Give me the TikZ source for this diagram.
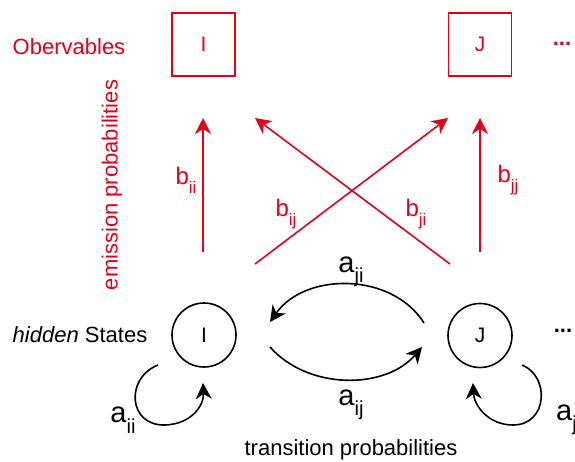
\documentclass[tikz,border=0pt]{standalone}
\usepackage{fontspec}
\setmainfont{Liberation Sans}
\usetikzlibrary{arrows.meta}
\definecolor{obsred}{RGB}{226,0,26}
\newcommand\lbsub[1]{\raisebox{-0.36em}{\scalebox{0.7}{#1}}}
\begin{document}
\begin{tikzpicture}[x=1pt,y=-1pt,
  obsbox/.style={draw=obsred, line width=1.6pt, minimum size=63pt, inner sep=0pt, text=obsred, font=\fontsize{21}{24}\selectfont},
  state/.style={circle, draw, line width=1.6pt, minimum size=64pt, inner sep=0pt, font=\fontsize{21}{24}\selectfont},
  emis/.style={draw=obsred, line width=1.6pt, -{Stealth[length=16pt,width=16pt,inset=5pt]}},
  trans/.style={draw=black, line width=1.6pt, -{Stealth[length=16pt,width=16pt,inset=5pt]}},
  blabel/.style={text=obsred, font=\fontsize{24}{28}\selectfont, inner sep=0pt},
  alabel/.style={font=\fontsize{29}{32}\selectfont, inner sep=0pt},
  plain/.style={font=\fontsize{22}{26}\selectfont, inner sep=0pt},
  redtext/.style={plain, text=obsred}]
\useasboundingbox (0,0) rectangle (575,461);

% observables
\node[redtext] (obslabel) at (69,47) {Obervables};
\node[obsbox] (obsI) at (203.5,44.5) {I};
\node[obsbox] (obsJ) at (480,44.5) {J};
\node[redtext] (obsdots) at (562,44) {\textbf{...}};
\node[redtext, rotate=90] (emislabel) at (112,185) {emission probabilities};

% hidden states
\node[plain] (hidlabel) at (80,335) {\textit{hidden} States};
\node[state] (hidI) at (204,335) {I};
\node[state] (hidJ) at (480,335.5) {J};
\node[plain] (hiddots) at (563,331) {\textbf{...}};
\node[plain] (translabel) at (351,450) {transition probabilities};

% emission arrows
\coordinate (bIIs) at (203,252); \coordinate (bIIe) at (203,118);
\coordinate (bJJs) at (480,252); \coordinate (bJJe) at (480,118);
\coordinate (bIJs) at (255,264); \coordinate (bIJe) at (448,118);
\coordinate (bJIs) at (450,264); \coordinate (bJIe) at (255,118);
\draw[emis] (bIIs) -- (bIIe);
\draw[emis] (bJJs) -- (bJJe);
\draw[emis] (bIJs) -- (bIJe);
\draw[emis] (bJIs) -- (bJIe);
\node[blabel] (lbii) at (186,180) {b\lbsub{ii}};
\node[blabel] (lbjj) at (508,180) {b\lbsub{jj}};
\node[blabel] (lbij) at (286,214) {b\lbsub{ij}};
\node[blabel] (lbji) at (416,214) {b\lbsub{ji}};

% transitions
\coordinate (ajis) at (424,323); \coordinate (ajie) at (270,322);
\coordinate (aijs) at (270,347); \coordinate (aije) at (422,347);
\draw[trans] (ajis) .. controls (392,272) and (305,272) .. (ajie);
\draw[trans] (aijs) .. controls (308,390) and (385,390) .. (aije);
\node[alabel] (laji) at (351,272) {a\lbsub{ji}};
\node[alabel] (laij) at (351,405) {a\lbsub{ij}};

% self loops
\coordinate (aiis) at (158,365); \coordinate (aiim) at (165,425); \coordinate (aiie) at (203,383);
\draw[trans] (aiis) .. controls (125,378) and (128,426) .. (aiim) .. controls (192,424) and (204,405) .. (aiie);
\node[alabel] (laii) at (123,420) {a\lbsub{ii}};
\coordinate (ajjs) at (522,365); \coordinate (ajjm) at (513,425); \coordinate (ajje) at (473,383);
\draw[trans] (ajjs) .. controls (550,376) and (548,425) .. (ajjm) .. controls (488,425) and (474,405) .. (ajje);
\node[alabel, anchor=west] (lajj) at (556,420) {a\lbsub{jj}};
\end{tikzpicture}
\end{document}
